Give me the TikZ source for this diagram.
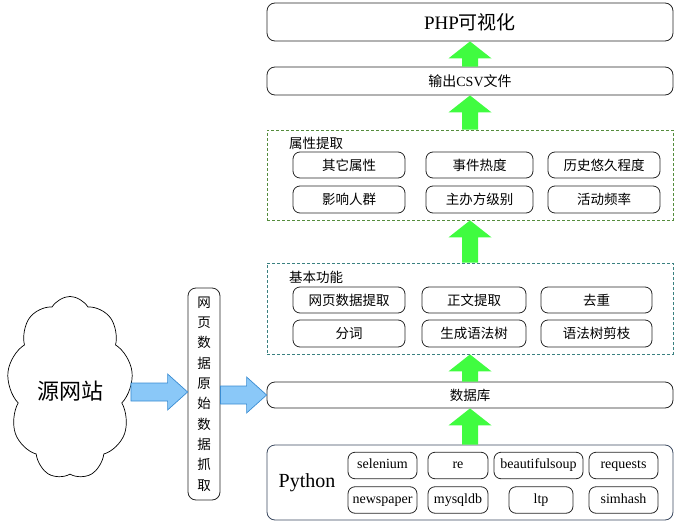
\documentclass[tikz,border=0pt]{standalone}
\usepackage{fontspec}
\setmainfont{Liberation Serif}
\newfontfamily\cjk{Noto Sans CJK SC}
\usetikzlibrary{shapes.symbols,calc}
\definecolor{attrgreen}{RGB}{84,140,60}
\definecolor{basicteal}{RGB}{58,128,128}
\definecolor{pyborder}{RGB}{60,74,96}
\definecolor{arrowgreen}{RGB}{64,252,64}
\definecolor{bluefill}{RGB}{138,200,248}
\definecolor{blueline}{RGB}{58,140,210}
\tikzset{
  widebox/.style={draw=black!85, line width=0.8pt, rounded corners=8pt, minimum width=406pt, inner sep=0pt},
  smallbox/.style={draw=black!85, line width=0.8pt, rounded corners=7pt, inner sep=0pt, font=\cjk\fontsize{13.5}{15}\selectfont},
  latinbox/.style={draw=black!85, line width=0.8pt, rounded corners=7pt, inner sep=0pt, minimum height=26.5pt, text height=9.5pt, text depth=3pt, font=\fontsize{14}{16}\selectfont},
  grouplabel/.style={anchor=west, inner sep=0pt, font=\cjk\fontsize{13.5}{15}\selectfont},
  garrowfill/.style={fill=arrowgreen},
  barrowstyle/.style={fill=bluefill, draw=blueline, line width=0.7pt, line join=miter},
}
\newcommand\garrow[2]{\fill[garrowfill] let \p1=(#1), \p2=(#2) in
  (\x1,\y1) -- (\x1+21.5pt,\y1-17pt) -- (\x1+8pt,\y1-17pt) -- (\x1+8pt,\y2)
  -- (\x1-8pt,\y2) -- (\x1-8pt,\y1-17pt) -- (\x1-21.5pt,\y1-17pt) -- cycle;}
\newcommand\barrow[2]{\draw[barrowstyle] let \p1=(#1), \p2=(#2) in
  (\x1,\y2+9pt) -- (\x2-20pt,\y2+9pt) -- (\x2-20pt,\y2+18pt) -- (\x2,\y2)
  -- (\x2-20pt,\y2-18pt) -- (\x2-20pt,\y2-9pt) -- (\x1,\y2-9pt) -- cycle;}
\begin{document}
\begin{tikzpicture}[x=1pt,y=-1pt]
\useasboundingbox (0,0) rectangle (675,522);

% top boxes
\node[widebox, minimum height=38pt, font=\fontsize{19}{22}\selectfont] (php) at (470,22) {PHP{\cjk 可视化}};
\node[widebox, minimum height=28pt, font=\fontsize{14}{16}\selectfont] (csv) at (470,81) {{\cjk 输出}CSV{\cjk 文件}};

% attribute group
\node[draw=attrgreen, line width=0.8pt, dash pattern=on 3pt off 2pt, minimum width=406pt, minimum height=90pt, inner sep=0pt] (attr) at (470,175) {};
\node[grouplabel] (attrlabel) at (289,143) {属性提取};
\node[smallbox, minimum width=112pt, minimum height=26pt] (a1) at (349,165) {其它属性};
\node[smallbox, minimum width=107pt, minimum height=26pt] (a2) at (479.5,165) {事件热度};
\node[smallbox, minimum width=112pt, minimum height=26pt] (a3) at (604,165) {历史悠久程度};
\node[smallbox, minimum width=112pt, minimum height=27pt] (a4) at (349,199.5) {影响人群};
\node[smallbox, minimum width=107pt, minimum height=27pt] (a5) at (479.5,199.5) {主办方级别};
\node[smallbox, minimum width=112pt, minimum height=27pt] (a6) at (604,199.5) {活动频率};

% basic group
\node[draw=basicteal, line width=0.8pt, dash pattern=on 3pt off 2pt, minimum width=406pt, minimum height=91pt, inner sep=0pt] (basic) at (470,308.5) {};
\node[grouplabel] (basiclabel) at (289,277) {基本功能};
\node[smallbox, minimum width=112pt, minimum height=26pt] (b1) at (349,300) {网页数据提取};
\node[smallbox, minimum width=104pt, minimum height=26pt] (b2) at (474,300) {正文提取};
\node[smallbox, minimum width=111pt, minimum height=26pt] (b3) at (596.5,300) {去重};
\node[smallbox, minimum width=112pt, minimum height=27pt] (b4) at (349,333.5) {分词};
\node[smallbox, minimum width=104pt, minimum height=27pt] (b5) at (474,333.5) {生成语法树};
\node[smallbox, minimum width=111pt, minimum height=27pt] (b6) at (596.5,333.5) {语法树剪枝};

% database
\node[widebox, minimum height=26pt, font=\cjk\fontsize{13.5}{15}\selectfont] (db) at (470,395) {数据库};

% python group
\node[draw=pyborder, line width=0.8pt, rounded corners=8pt, minimum width=406pt, minimum height=75pt, inner sep=0pt] (py) at (470,482.5) {};
\node[inner sep=0pt, font=\fontsize{20}{22}\selectfont] (pylabel) at (307,483) {Python};
\node[latinbox, minimum width=69pt] (p1) at (382.5,465.5) {selenium};
\node[latinbox, minimum width=60pt] (p2) at (458,465.5) {re};
\node[latinbox, minimum width=89pt] (p3) at (538.5,465.5) {beautifulsoup};
\node[latinbox, minimum width=69pt] (p4) at (623.5,465.5) {requests};
\node[latinbox, minimum width=69pt] (p5) at (382.5,500) {newspaper};
\node[latinbox, minimum width=60pt] (p6) at (458,500) {mysqldb};
\node[latinbox, minimum width=64pt] (p7) at (541,500) {ltp};
\node[latinbox, minimum width=69pt] (p8) at (623.5,500) {simhash};

% source cloud and crawler box
\begin{scope}[shift={(70,388)}, yscale=1.13]
\node[cloud, draw=black, line width=0.7pt, cloud puffs=9, cloud puff arc=110, aspect=0.7,
      minimum width=126pt, minimum height=162pt, inner sep=0pt, transform shape] (src) at (0,0) {};
\end{scope}
\node[inner sep=0pt, font=\cjk\fontsize{22}{24}\selectfont] (srclabel) at (70,391) {源网站};
\node[draw=black!85, line width=0.8pt, rounded corners=8pt, minimum width=32pt, minimum height=212pt,
      inner sep=0pt, align=center, font=\cjk\fontsize{13.5}{20.3}\selectfont] (vbox) at (204,394)
      {网\\页\\数\\据\\原\\始\\数\\据\\抓\\取};

% green arrows
\garrow{php.south}{csv.north}
\garrow{csv.south}{attr.north}
\garrow{attr.south}{basic.north}
\garrow{basic.south}{db.north}
\garrow{db.south}{py.north}

% blue arrows
\barrow{src.east}{$(vbox.west)+(0,-2)$}
\barrow{vbox.east}{db.west}
\end{tikzpicture}
\end{document}
